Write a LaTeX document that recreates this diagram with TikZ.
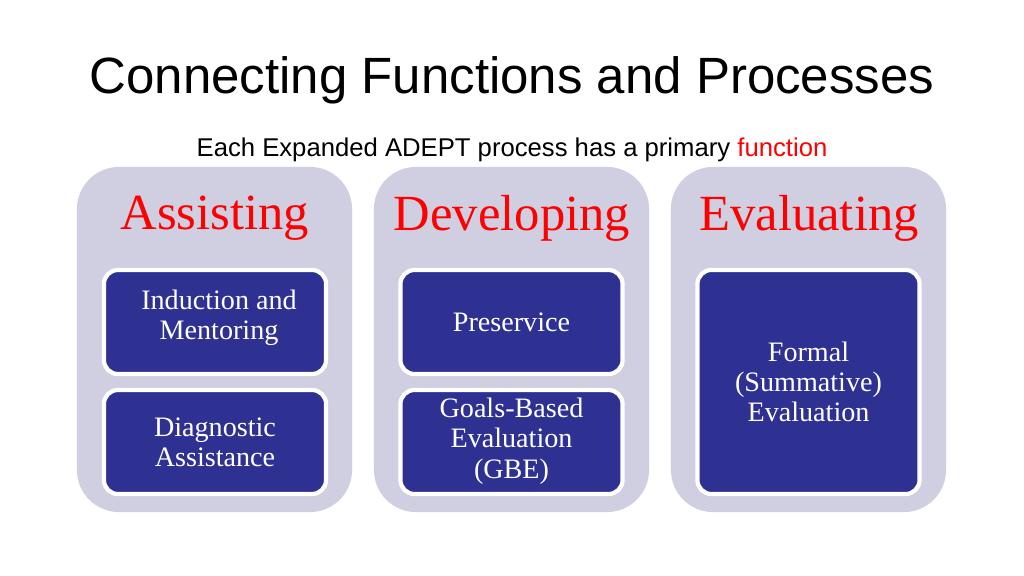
\documentclass[tikz,border=0pt]{standalone}
\usepackage{fontspec}
\setmainfont{Liberation Serif}
\setsansfont{Liberation Sans}
\usetikzlibrary{positioning}
\definecolor{panelgray}{HTML}{CFCFE1}
\definecolor{boxblue}{HTML}{2E3192}
\definecolor{headred}{HTML}{FF0000}
\tikzset{
	panel/.style={fill=panelgray, rounded corners=12pt, minimum width=2.75cm, minimum height=3.45cm},
	boxtext/.style={text=white, font=\fontsize{8}{8.6}\selectfont, align=center},
	procbox/.style={boxtext, fill=boxblue, draw=white, line width=1.2pt, rounded corners=4pt, minimum width=2.22cm, minimum height=1.04cm, inner sep=1pt},
	heading/.style={text=headred, font=\fontsize{14.4}{16}\selectfont}
}
\begin{document}
\begin{tikzpicture}[x=0.01cm, y=-0.01cm]
	\useasboundingbox (0,0) rectangle (1024,576);
	\fill[white] (0,0) rectangle (1024,576);
	\node[font=\sffamily\fontsize{14.5}{17}\selectfont] (title) at (512,80) {Connecting Functions and Processes};
	\node[font=\sffamily\fontsize{7.3}{9}\selectfont] (sub) at (512,150) {Each Expanded ADEPT process has a primary \textcolor{headred}{function}};
	% columns
	\node[panel] (assist) at (214.5,339.5) {};
	\node[panel] (develop) at (511.5,339.5) {};
	\node[panel] (evaluate) at (808.5,339.5) {};
	\node[heading] (hassist) at (215,218) {Assisting};
	\node[heading] (hdevelop) at (512,218) {Developing};
	\node[heading] (hevaluate) at (809,218) {Evaluating};
	% process boxes
	\node[procbox] (induct) at (215,322) {};
	\node[boxtext] (tinduct) at (219,318) {Induction and\\Mentoring};
	\node[procbox] (diag) at (215,442) {};
	\node[boxtext] (tdiag) at (215,442) {Diagnostic\\Assistance};
	\node[procbox] (preserv) at (511.5,322) {Preservice};
	\node[procbox] (gbe) at (511.5,442) {};
	\node[boxtext] (tgbe) at (511.5,441) {Goals-Based\\Evaluation\\(GBE)};
	\node[procbox, minimum height=2.24cm] (formal) at (808.5,382) {Formal\\(Summative)\\Evaluation};
\end{tikzpicture}
\end{document}
